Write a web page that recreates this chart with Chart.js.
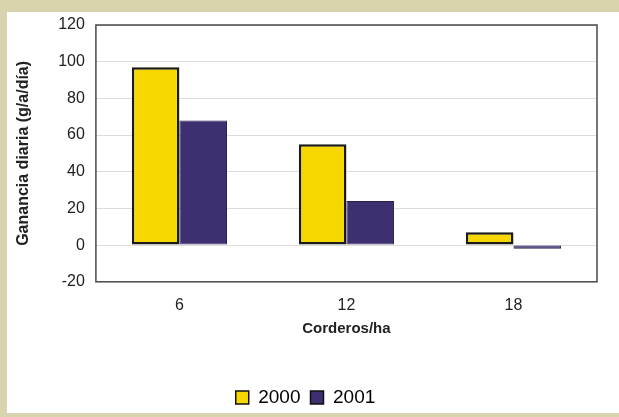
<!DOCTYPE html>
<html>
<head>
<meta charset="utf-8">
<script src="https://cdn.jsdelivr.net/npm/chart.js@4.4.1/dist/chart.umd.min.js"></script>
<style>
  html, body { margin: 0; padding: 0; background: #d8d5ae; }
  #wrap { position: relative; width: 619px; height: 417px; }
  canvas { display: block; }
</style>
</head>
<body>
<div id="wrap"><canvas id="c" width="619" height="417"></canvas></div>
<script>
const categories = ["6", "12", "18"];
const seriesNames = ["2000", "2001"];
const values2000 = [97, 55, 7];
const values2001 = [68, 24, -2];
const yTicks = [-20, 0, 20, 40, 60, 80, 100, 120];

const FONT = 'Liberation Sans, Arial, sans-serif';

const bgPlugin = {
  id: 'bg',
  beforeDraw(chart) {
    const ctx = chart.ctx;
    ctx.save();
    ctx.fillStyle = '#d8d5ae';
    ctx.fillRect(0, 0, chart.width, chart.height);
    ctx.fillStyle = '#ffffff';
    ctx.fillRect(7, 12, chart.width - 7, chart.height - 16);
    ctx.restore();
  },
  afterDatasetsDraw(chart) {
    const a = chart.chartArea;
    const ctx = chart.ctx;
    ctx.save();
    ctx.strokeStyle = '#4a4a4a';
    ctx.lineWidth = 1.5;
    ctx.strokeRect(a.left, a.top, a.right - a.left, a.bottom - a.top);
    ctx.restore();
  }
};

new Chart(document.getElementById('c'), {
  type: 'bar',
  data: {
    labels: categories,
    datasets: [
      { label: seriesNames[0], data: values2000, backgroundColor: '#f6d800', borderColor: '#1a1a1a', borderWidth: 2.5, borderSkipped: false },
      { label: seriesNames[1], data: values2001, backgroundColor: '#3d2f70', borderColor: '#2a2050', borderWidth: 1, borderSkipped: false }
    ]
  },
  options: {
    responsive: false,
    animation: false,
    layout: { padding: { left: 14, right: 22, top: 25, bottom: 0 } },
    datasets: { bar: { categoryPercentage: 0.57, barPercentage: 1.0 } },
    plugins: {
      legend: {
        position: 'bottom',
        labels: {
          boxWidth: 13, boxHeight: 13, padding: 10,
          color: '#111',
          font: { family: FONT, size: 19 },
          generateLabels(chart) {
            return chart.data.datasets.map((d, i) => ({
              text: d.label, fillStyle: d.backgroundColor, strokeStyle: '#111', lineWidth: 1.5, datasetIndex: i
            }));
          }
        }
      },
      tooltip: { enabled: false }
    },
    scales: {
      x: {
        grid: { display: false, drawTicks: false },
        border: { display: false },
        ticks: { color: '#222', padding: 14, font: { family: FONT, size: 16 } },
        title: { display: true, text: 'Corderos/ha', color: '#222', padding: { top: -9, bottom: 40 }, font: { family: FONT, size: 15, weight: 'bold' } }
      },
      y: {
        min: -20, max: 120,
        afterBuildTicks(scale) { scale.ticks = yTicks.map(v => ({ value: v })); },
        grid: { color: '#dcdcdc', lineWidth: 1, drawTicks: false },
        border: { display: false },
        ticks: { color: '#222', padding: 11, font: { family: FONT, size: 16 } },
        title: { display: true, text: 'Ganancia diaria (g/a/día)', color: '#222', padding: { top: 0, bottom: 14 }, font: { family: FONT, size: 16, weight: 'bold' } }
      }
    }
  },
  plugins: [bgPlugin]
});
</script>
</body>
</html>
